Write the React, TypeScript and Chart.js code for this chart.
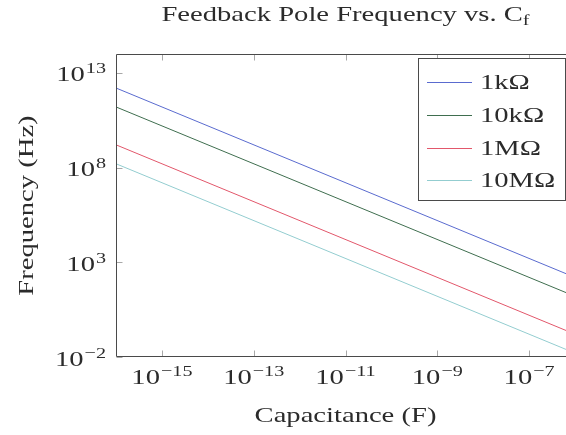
import React, { useEffect, useRef } from "react";
import { Chart, registerables } from "chart.js";

Chart.register(...registerables);

// Feedback capacitance sweep (F) and resulting pole frequency (Hz) per resistor
const capacitance = [1e-16, 1e-6];
const freq1k = [1.6e12, 1.6e2];
const freq10k = [1.6e11, 1.6e1];
const freq1M = [1.6e9, 1.6e-1];
const freq10M = [1.6e8, 1.6e-2];

const seriesLabels = ["1kΩ", "10kΩ", "1MΩ", "10MΩ"];
const seriesColors = ["#5a6bcf", "#3f6e4f", "#e2576b", "#93cdd0"];

const xTickExponents = [-15, -13, -11, -9, -7];
const yTickExponents = [-2, 3, 8, 13];

const titleMain = "Feedback Pole Frequency vs. C";
const titleSub = "f";
const xTitle = "Capacitance (F)";
const yTitle = "Frequency (Hz)";

const FAMILY = "'Liberation Serif', 'Times New Roman', serif";
const SX = 1.3; // horizontal stretch of the lettering
const BASE = 22;
const SMALL = 15.5;
const INK = "#2b2b2b";

function font(size: number) {
  return `${size}px ${FAMILY}`;
}

function stretchedWidth(ctx: CanvasRenderingContext2D, text: string, size: number) {
  ctx.font = font(size);
  return ctx.measureText(text).width * SX;
}

function drawStretched(ctx: CanvasRenderingContext2D, text: string, x: number, y: number, size: number) {
  ctx.save();
  ctx.font = font(size);
  ctx.textAlign = "left";
  ctx.textBaseline = "alphabetic";
  ctx.translate(x, y);
  ctx.scale(SX, 1);
  ctx.fillText(text, 0, 0);
  ctx.restore();
}

function drawPower(ctx: CanvasRenderingContext2D, exp: number, x: number, baseline: number, align: "right" | "center") {
  const base = "10";
  const sup = exp < 0 ? "\u2212" + Math.abs(exp) : String(exp);
  const wb = stretchedWidth(ctx, base, BASE);
  const ws = stretchedWidth(ctx, sup, SMALL);
  const total = wb + ws + 1;
  const start = align === "right" ? x - total : x - total / 2;
  drawStretched(ctx, base, start, baseline, BASE);
  drawStretched(ctx, sup, start + wb + 1, baseline - 8, SMALL);
}

const decorPlugin = {
  id: "decor",
  afterDraw(chart: any) {
    const { ctx, chartArea: a, scales } = chart;
    const xs = scales.x;
    const ys = scales.y;
    const left = Math.round(a.left) + 0.5;
    const top = Math.round(a.top) + 0.5;
    const bottom = Math.round(a.bottom) - 0.5;
    const right = Math.round(a.right) - 0.5;
    ctx.save();

    // inward tick marks on all four sides
    ctx.strokeStyle = "#a8a8a8";
    ctx.lineWidth = 1;
    const tl = 6;
    ctx.beginPath();
    for (const e of xTickExponents) {
      const px = Math.round(xs.getPixelForValue(Math.pow(10, e))) + 0.5;
      ctx.moveTo(px, bottom);
      ctx.lineTo(px, bottom - tl);
      ctx.moveTo(px, top);
      ctx.lineTo(px, top + tl);
    }
    for (const e of yTickExponents) {
      const py = Math.round(ys.getPixelForValue(Math.pow(10, e))) + 0.5;
      ctx.moveTo(left, py);
      ctx.lineTo(left + tl, py);
      ctx.moveTo(right, py);
      ctx.lineTo(right - tl, py);
    }
    ctx.stroke();

    // axis frame
    ctx.strokeStyle = "#4a4a4a";
    ctx.beginPath();
    ctx.rect(left, top, right - left, bottom - top);
    ctx.stroke();

    ctx.fillStyle = INK;

    // tick labels
    for (const e of xTickExponents) {
      const px = xs.getPixelForValue(Math.pow(10, e));
      drawPower(ctx, e, px, a.bottom + 27, "center");
    }
    for (const e of yTickExponents) {
      const py = ys.getPixelForValue(Math.pow(10, e));
      drawPower(ctx, e, a.left - 10, py + 8.5, "right");
    }

    const cx = (a.left + a.right) / 2;
    const cy = (a.top + a.bottom) / 2;

    // title with subscript
    const wMain = stretchedWidth(ctx, titleMain, BASE);
    const wSub = stretchedWidth(ctx, titleSub, SMALL);
    const tStart = cx - (wMain + wSub) / 2;
    drawStretched(ctx, titleMain, tStart, 21, BASE);
    drawStretched(ctx, titleSub, tStart + wMain, 24.5, SMALL);

    // axis titles
    const wx = stretchedWidth(ctx, xTitle, BASE);
    drawStretched(ctx, xTitle, cx - wx / 2, 422, BASE);

    ctx.save();
    ctx.translate(33, cy);
    ctx.rotate(-Math.PI / 2);
    const wy = stretchedWidth(ctx, yTitle, BASE);
    drawStretched(ctx, yTitle, -wy / 2, 0, BASE);
    ctx.restore();

    // boxed legend in the upper right
    const lx = 418.5;
    const ly = 58.5;
    const lw = 147;
    const lh = 142;
    ctx.fillStyle = "#ffffff";
    ctx.fillRect(lx, ly, lw, lh);
    ctx.strokeStyle = "#4a4a4a";
    ctx.strokeRect(lx, ly, lw, lh);
    chart.data.datasets.forEach((ds: any, i: number) => {
      const yy = 82 + i * 32.8;
      const ry = Math.round(yy) + 0.5;
      ctx.strokeStyle = ds.borderColor;
      ctx.beginPath();
      ctx.moveTo(427, ry);
      ctx.lineTo(472, ry);
      ctx.stroke();
      ctx.fillStyle = INK;
      drawStretched(ctx, ds.label, 480, yy + 7, BASE);
    });

    ctx.restore();
  },
};

export default function App() {
  const canvasRef = useRef<HTMLCanvasElement | null>(null);

  useEffect(() => {
    const canvas = canvasRef.current;
    if (!canvas) return;
    const series = [freq1k, freq10k, freq1M, freq10M];
    const chart = new Chart(canvas, {
      type: "line",
      data: {
        datasets: series.map((vals, i) => ({
          label: seriesLabels[i],
          data: capacitance.map((c, j) => ({ x: c, y: vals[j] })),
          borderColor: seriesColors[i],
          backgroundColor: seriesColors[i],
          borderWidth: 1,
          pointRadius: 0,
          fill: false,
        })),
      },
      options: {
        animation: false,
        responsive: false,
        devicePixelRatio: 1,
        layout: { padding: { left: 116, top: 54, right: 25, bottom: 78 } },
        plugins: {
          legend: { display: false },
          title: { display: false },
          tooltip: { enabled: false },
        },
        scales: {
          x: { type: "logarithmic", display: false, min: 1e-16, max: 1e-6 },
          y: { type: "logarithmic", display: false, min: 1e-2, max: 1e14 },
        },
      },
      plugins: [decorPlugin],
    } as any);
    return () => chart.destroy();
  }, []);

  return (
    <div style={{ position: "fixed", left: 0, top: 0, width: 600, height: 435, background: "#ffffff" }}>
      <canvas ref={canvasRef} width={600} height={435} />
    </div>
  );
}
